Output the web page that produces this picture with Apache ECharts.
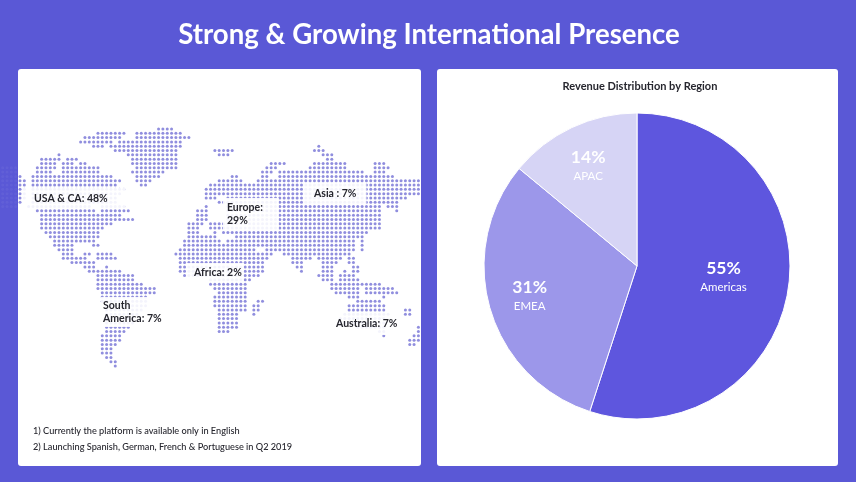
<!DOCTYPE html>
<html>
<head>
<meta charset="utf-8">
<script src="https://cdn.jsdelivr.net/npm/echarts@6/dist/echarts.min.js"></script>
<style>
  html, body { margin: 0; padding: 0; background: #5a58d6; }
  #main { width: 856px; height: 482px; }
</style>
</head>
<body>
<div id="main"></div>
<script>
const pageTitle = 'Strong & Growing International Presence'
const pieTitle = 'Revenue Distribution by Region'
const regionNames = ['Americas', 'EMEA', 'APAC']
const regionShares = [55, 31, 14]
const mapLabels = ['USA & CA: 48%', 'Europe:\n29%', 'Asia : 7%', 'Africa: 2%', 'South\nAmerica: 7%', 'Australia: 7%']
const footnotes = ['1) Currently the platform is available only in English', '2) Launching Spanish, German, French & Portuguese in Q2 2019']

// dot map, one entry per row, each pair is a run of dots [first column, last column]
const dotRows = [
  [[32, 35]],
  [[18, 24], [27, 37]],
  [[15, 23], [27, 39]],
  [[14, 21], [23, 37]],
  [[17, 19], [21, 37], [69, 69]],
  [[22, 36], [45, 49], [68, 70]],
  [[9, 9], [25, 36], [46, 48], [70, 72]],
  [[5, 9], [11, 13], [26, 36], [71, 72]],
  [[5, 8], [10, 12], [14, 15], [26, 36], [58, 61], [68, 75], [82, 84]],
  [[4, 8], [10, 18], [27, 36], [57, 59], [67, 75], [82, 85]],
  [[4, 7], [10, 18], [26, 33], [56, 58], [60, 79], [82, 84]],
  [[0, 0], [3, 21], [27, 32], [49, 50], [56, 57], [60, 86]],
  [[0, 1], [3, 23], [27, 30], [46, 51], [55, 92]],
  [[0, 1], [3, 22], [28, 29], [44, 92]],
  [[0, 1], [3, 24], [43, 92]],
  [[0, 1], [3, 23], [43, 92]],
  [[0, 1], [3, 22], [43, 45], [48, 89]],
  [[0, 0], [3, 22], [46, 87]],
  [[2, 16], [19, 24], [43, 43], [48, 83], [85, 87]],
  [[4, 17], [19, 25], [41, 43], [48, 83], [87, 87]],
  [[5, 23], [41, 43], [48, 83]],
  [[5, 26], [41, 43], [48, 83]],
  [[5, 21], [39, 42], [44, 83]],
  [[5, 19], [39, 41], [44, 83]],
  [[6, 18], [39, 41], [45, 45], [47, 80]],
  [[7, 18], [39, 45], [50, 79]],
  [[8, 17], [38, 46], [48, 77], [79, 79]],
  [[8, 12], [17, 18], [38, 77], [79, 79]],
  [[9, 12], [37, 54], [57, 77], [79, 79]],
  [[10, 12], [15, 16], [18, 21], [36, 58], [61, 76]],
  [[10, 15], [18, 22], [37, 57], [63, 67], [69, 74], [76, 77]],
  [[12, 17], [37, 56], [63, 65], [70, 73], [76, 77]],
  [[15, 17], [20, 20], [37, 56], [64, 65], [70, 72], [77, 78]],
  [[16, 23], [37, 56], [65, 65], [70, 72], [75, 75], [77, 78]],
  [[18, 26], [38, 55], [69, 72], [74, 77]],
  [[18, 26], [44, 53], [70, 72], [74, 78]],
  [[18, 28], [44, 52], [72, 83]],
  [[18, 31], [45, 52], [72, 78], [80, 86]],
  [[19, 31], [46, 52], [73, 78], [80, 87]],
  [[19, 29], [45, 52], [76, 78], [84, 84]],
  [[19, 29], [45, 52], [55, 56], [78, 83]],
  [[20, 29], [45, 52], [54, 55], [76, 84]],
  [[20, 28], [46, 52], [54, 55], [76, 84], [89, 90]],
  [[20, 27], [46, 50], [54, 54], [75, 85], [89, 90]],
  [[20, 26], [46, 50], [74, 84]],
  [[20, 26], [46, 50], [74, 84]],
  [[20, 25], [46, 50], [78, 84], [92, 92]],
  [[20, 24], [46, 48], [83, 84], [92, 92]],
  [[19, 23], [84, 84], [91, 92]],
  [[19, 23], [90, 92]],
  [[19, 22], [90, 91]],
  [[19, 21]],
  [[19, 21]],
  [[20, 21]],
  [[21, 22]],
  [[22, 22]]
]
// faint dots that spill over the left edge of the white card
const edgeRows = [9, 10, 11, 12, 13, 14, 15, 16, 17, 18]
const edgeColumns = [-4, -3, -2, -1]

function getDots() {
  let dots = []
  dotRows.forEach(function (runs, row) {
    runs.forEach(function (run) {
      for (let col = run[0]; col <= run[1]; col++) {
        dots.push([col, row])
      }
    })
  })
  return dots
}

function getEdgeDots() {
  let dots = []
  edgeRows.forEach(function (row) {
    edgeColumns.forEach(function (col) {
      dots.push([col, row])
    })
  })
  return dots
}

function mapLabel(text, x, y, padding) {
  return {
    type: 'text',
    x: x,
    y: y,
    z: 10,
    style: {
      text: text,
      fill: '#26262e',
      font: '700 10.5px Lato',
      lineHeight: 13,
      backgroundColor: 'rgba(255,255,255,0.9)',
      padding: padding
    }
  }
}

function footnote(text, y) {
  return {
    type: 'text',
    x: 33,
    y: y,
    z: 10,
    style: { text: text, fill: '#26262e', font: '500 9.2px Lato' }
  }
}

var myChart = echarts.init(document.getElementById('main'));
var option = {
  animation: false,
  backgroundColor: '#5a58d6',
  title: [
    {
      text: pageTitle,
      left: 424,
      top: 16,
      textAlign: 'center',
      textStyle: { color: '#fff', fontFamily: 'Lato', fontWeight: 'bold', fontSize: 27.6 }
    },
    {
      text: pieTitle,
      left: 635,
      top: 76,
      textAlign: 'center',
      textStyle: { color: '#26262e', fontFamily: 'Lato', fontWeight: 700, fontSize: 11 }
    }
  ],
  grid: { left: 20, top: 129, width: 398.4, height: 237 },
  xAxis: { type: 'value', min: 0, max: 92, show: false },
  yAxis: { type: 'value', min: 0, max: 55, inverse: true, show: false },
  series: [
    {
      type: 'scatter',
      clip: false,
      silent: true,
      symbolSize: 3,
      itemStyle: { color: '#7472d6' },
      data: getDots()
    },
    {
      type: 'scatter',
      clip: false,
      silent: true,
      symbolSize: 3,
      itemStyle: { color: 'rgba(255,255,255,0.06)' },
      data: getEdgeDots()
    },
    {
      type: 'pie',
      center: [637, 266],
      radius: [0, 153],
      startAngle: 90,
      silent: true,
      itemStyle: { borderColor: '#fff', borderWidth: 1 },
      label: {
        position: 'inside',
        color: '#fff',
        formatter: function (p) {
          return '{v|' + p.value + '%}\n{n|' + p.name + '}'
        },
        rich: {
          v: { fontFamily: 'Lato', fontWeight: 'bold', fontSize: 17.5, color: '#fff', lineHeight: 23 },
          n: { fontFamily: 'Lato', fontSize: 11.5, color: '#fff', lineHeight: 15 }
        }
      },
      data: regionNames.map(function (name, i) {
        return {
          name: name,
          value: regionShares[i],
          itemStyle: { color: ['#5e56de', '#9c97ea', '#d6d4f5'][i] },
          label: { offset: [[8, -3], [-31, 7], [-15, -29]][i] }
        }
      })
    }
  ],
  graphic: [
    { type: 'rect', z: 0, shape: { x: 18, y: 69, width: 403, height: 397, r: 3 }, style: { fill: '#fff' } },
    { type: 'rect', z: 0, shape: { x: 437, y: 69, width: 401, height: 397, r: 3 }, style: { fill: '#fff' } },
    mapLabel(mapLabels[0], 22, 188, [4, 18, 4, 12]),
    mapLabel(mapLabels[1], 223, 198, [3, 16, 3, 4]),
    mapLabel(mapLabels[2], 304, 183, [4, 10, 4, 10]),
    mapLabel(mapLabels[3], 186, 263, [3, 2, 3, 8]),
    mapLabel(mapLabels[4], 101, 297, [2, 2, 2, 2]),
    mapLabel(mapLabels[5], 334, 312, [5, 2, 5, 2]),
    footnote(footnotes[0], 427),
    footnote(footnotes[1], 443)
  ]
};
option && myChart.setOption(option);
</script>
</body>
</html>
